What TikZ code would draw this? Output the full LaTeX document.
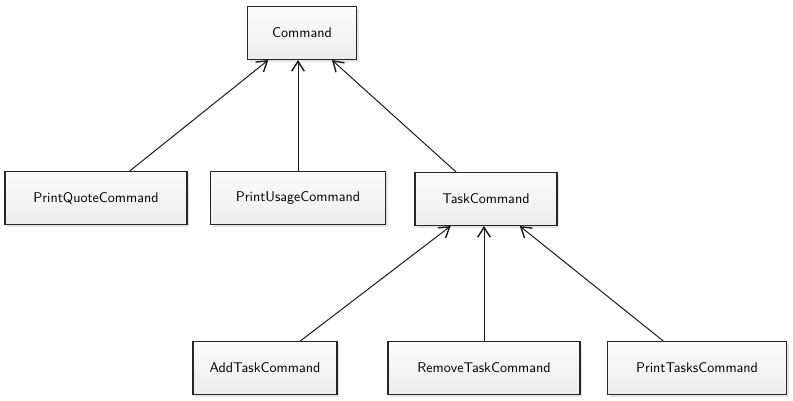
\documentclass[tikz,border=0pt]{standalone}
\usetikzlibrary{arrows.meta,shadows}
\tikzset{
	cls/.style={draw=black!85,line width=0.8pt,top color=gray!3,bottom color=gray!14,minimum height=53*0.025cm,font=\sffamily,drop shadow={shadow xshift=1.5pt,shadow yshift=-1.5pt,fill=black!20}},
	inherit/.style={-{Straight Barb[length=7pt,width=9pt,line width=1pt]},line width=0.7pt,draw=black!90}
}
\begin{document}
	\begin{tikzpicture}[x=0.025cm,y=-0.025cm]
		\useasboundingbox (0,0) rectangle (793,400);
		\node[cls,minimum width=109*0.025cm] (cmd) at (302,33) {Command};
		\node[cls,minimum width=182*0.025cm] (pq) at (96,198) {PrintQuoteCommand};
		\node[cls,minimum width=175*0.025cm] (pu) at (298,198) {PrintUsageCommand};
		\node[cls,minimum width=142*0.025cm] (task) at (486,199) {TaskCommand};
		\node[cls,minimum width=144*0.025cm] (add) at (265,368) {AddTaskCommand};
		\node[cls,minimum width=192*0.025cm] (rm) at (484,368) {RemoveTaskCommand};
		\node[cls,minimum width=179*0.025cm] (pt) at (697,368) {PrintTasksCommand};
		\draw[inherit] (pq) -- (cmd);
		\draw[inherit] (pu) -- (pu|-cmd.south);
		\draw[inherit] (task) -- (cmd);
		\draw[inherit] (add) -- (task);
		\draw[inherit] (rm) -- (rm|-task.south);
		\draw[inherit] (pt) -- (task);
	\end{tikzpicture}
\end{document}
